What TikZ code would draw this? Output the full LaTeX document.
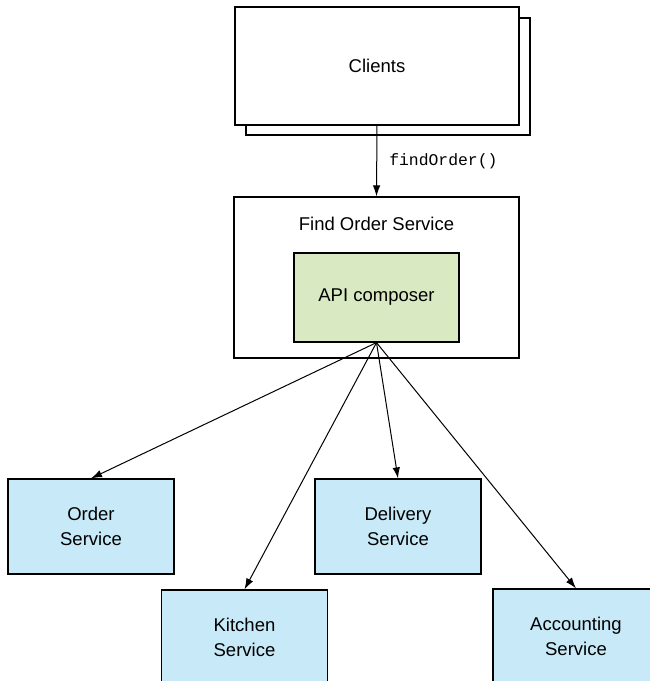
\documentclass[tikz,border=0pt]{standalone}
\usepackage{fontspec}
\setmainfont{Liberation Sans}
\setmonofont{Liberation Mono}
\usetikzlibrary{arrows.meta}
\definecolor{svcblue}{RGB}{199,233,248}
\definecolor{apigreen}{RGB}{217,234,195}
\tikzset{
  box/.style={draw=black, line width=1.2pt, inner sep=0pt, align=center,
    font=\fontsize{18.5}{25}\selectfont},
  svc/.style={box, fill=svcblue, minimum width=166pt, minimum height=95pt},
  arr/.style={line width=1pt, -{Latex[length=11pt,width=7.5pt]}},
}
\begin{document}
\begin{tikzpicture}[x=1pt,y=-1pt]
\useasboundingbox (0,0) rectangle (650,681);
\node[box, fill=white, minimum width=284pt, minimum height=117pt] (clientsback) at (388,76.5) {};
\node[box, fill=white, minimum width=284pt, minimum height=118pt] (clients) at (377,66) {Clients};
\node[box, fill=white, minimum width=285pt, minimum height=161pt] (fos) at (376.5,277.5) {};
\node[inner sep=0pt, font=\fontsize{18.5}{25}\selectfont] (fostitle) at (376.5,224) {Find Order Service};
\node[box, fill=apigreen, minimum width=165pt, minimum height=89pt] (api) at (376.5,297.5) {API composer};
\node[svc] (order) at (91,526.5) {Order\\Service};
\node[svc] (delivery) at (398,526.5) {Delivery\\Service};
\node[svc] (kitchen) at (244.5,637.5) {Kitchen\\Service};
\node[svc] (accounting) at (576,636.5) {Accounting\\Service};
\draw[arr] (clients.south) -- (fos.north)
  node[pos=0.5, right=12pt, inner sep=0pt, font=\fontsize{16.4}{20}\ttfamily] (lbl) {findOrder()};
\draw[arr] (api.south) -- (order.north);
\draw[arr] (api.south) -- (kitchen.north);
\draw[arr] (api.south) -- (delivery.north);
\draw[arr] (api.south) -- (accounting.north);
\end{tikzpicture}
\end{document}
